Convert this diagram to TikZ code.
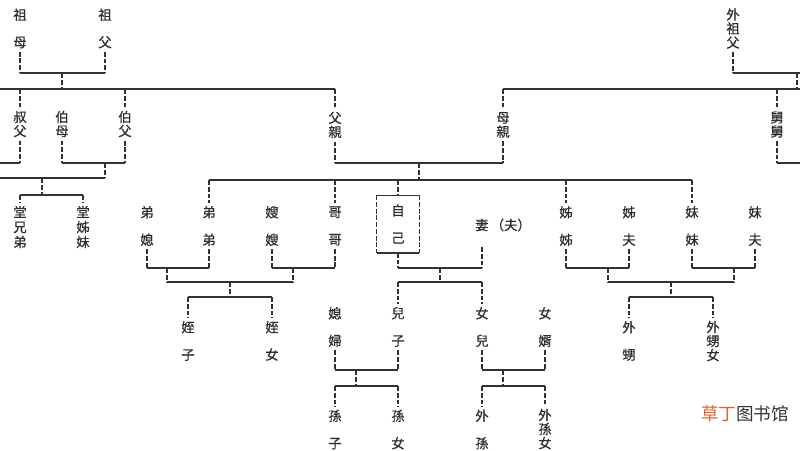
\documentclass[tikz,border=0pt]{standalone}
\usepackage{fontspec}
\newfontfamily\cjk[FakeBold=0.5]{Noto Sans CJK TC}
\newfontfamily\cjksc{Noto Sans CJK SC}
\usepackage{xcolor}
\usepackage{tikz}
\definecolor{LineGray}{RGB}{50,50,50}
\definecolor{TextGray}{RGB}{45,45,45}
\definecolor{MarkOrange}{RGB}{232,96,42}
\definecolor{MarkGray}{RGB}{52,52,52}

\begin{document}
\begin{tikzpicture}[
  x=0.025cm, y=-0.025cm,
  kin/.style={font=\cjk\fontsize{9.5}{10}\selectfont, text=TextGray, align=center, inner sep=2.2pt},
  selfbox/.style={kin, minimum width=1.05cm, minimum height=1.425cm},
  credit/.style={font=\cjksc\fontsize{12.5}{13}\selectfont, text=MarkGray, inner sep=0pt},
  hbar/.style={draw=LineGray, line width=1pt},
  vbar/.style={draw=LineGray, line width=1.1pt, dash pattern=on 3.5pt off 1.3pt}
]
\useasboundingbox (0,0) rectangle (800,450);
\fill[white] (0,0) rectangle (800,450);
\clip (0,0) rectangle (800,450);

% Grandparents
\node[kin] (grandma) at (20,28.5) {祖\\[9.5pt]母};
\node[kin] (grandpa) at (105,28.5) {祖\\[9.5pt]父};
\node[kin] (wgrandpa) at (733,28.5) {外\\祖\\父};

% Parents' generation
\node[kin] (shufu) at (20,124) {叔\\父};
\node[kin] (bomu) at (62,124) {伯\\母};
\node[kin] (bofu) at (125,124) {伯\\父};
\node[kin] (father) at (335,125) {父\\親};
\node[kin] (mother) at (503,125) {母\\親};
\node[kin] (jiujiu) at (777,124.5) {舅\\舅};

% Cousins
\node[kin] (tangxiong) at (20,227) {堂\\[0.6pt]兄\\[0.6pt]弟};
\node[kin] (tangjie) at (83,227) {堂\\[0.6pt]姊\\[0.6pt]妹};

% Own generation
\node[kin] (dixi) at (147,226) {弟\\[9.5pt]媳};
\node[kin] (didi) at (209,226) {弟\\[9.5pt]弟};
\node[kin] (saosao) at (272,226) {嫂\\[9.5pt]嫂};
\node[kin] (gege) at (335,226) {哥\\[9.5pt]哥};
\node[selfbox] (self) at (398,224) {自\\[9.5pt]己};
\node[kin] (wife) at (503,225) {妻\,（夫）};
\node[kin] (jiejie) at (566,226) {姊\\[9.5pt]姊};
\node[kin] (jiefu) at (629,226) {姊\\[9.5pt]夫};
\node[kin] (meimei) at (692,226) {妹\\[9.5pt]妹};
\node[kin] (meifu) at (755,226) {妹\\[9.5pt]夫};

% Children
\node[kin] (zhizi) at (188,341) {姪\\[9.5pt]子};
\node[kin] (zhinv) at (272,341) {姪\\[9.5pt]女};
\node[kin] (xifu) at (335,327) {媳\\[9.5pt]婦};
\node[kin] (erzi) at (398,327) {兒\\[9.5pt]子};
\node[kin] (nver) at (482,327) {女\\[9.5pt]兒};
\node[kin] (nvxu) at (545,327) {女\\[9.5pt]婿};
\node[kin] (waisheng) at (629,341) {外\\[9.5pt]甥};
\node[kin] (waishengnv) at (713,341) {外\\甥\\女};

% Grandchildren
\node[kin] (sunzi) at (335,429.5) {孫\\[9.5pt]子};
\node[kin] (sunnv) at (398,429.5) {孫\\[9.5pt]女};
\node[kin] (waisun) at (482,429.5) {外\\[9.5pt]孫};
\node[kin] (waisunnv) at (545,429) {外\\孫\\女};

% Watermark
\node[credit] (credit) at (745,414) {\textcolor{MarkOrange}{草丁}图书馆};

% Edges of the page, for lines that run off it
\coordinate (leftedge) at (-5,0);
\coordinate (rightedge) at (805,0);

% Grandparents -> father's generation
\coordinate (gpbar) at (62,73);
\coordinate (elder) at (62,89);
\draw[vbar] (grandma) -- (grandma |- gpbar);
\draw[vbar] (grandpa) -- (grandpa |- gpbar);
\draw[hbar] (grandma |- gpbar) -- (grandpa |- gpbar);
\draw[vbar] (gpbar) -- (elder);
\draw[hbar] (leftedge |- elder) -- (father |- elder);
\draw[vbar] (shufu |- elder) -- (shufu);
\draw[vbar] (bofu |- elder) -- (bofu);
\draw[vbar] (father |- elder) -- (father);

% Uncles' families -> cousins
\coordinate (shubar) at (20,163);
\coordinate (bostem) at (105,163);
\coordinate (cousinrow) at (105,178);
\coordinate (cousinstem) at (42,178);
\coordinate (cousinbar) at (42,195);
\draw[vbar] (shufu) -- (shufu |- shubar);
\draw[hbar] (leftedge |- shubar) -- (shufu |- shubar);
\draw[vbar] (bomu) -- (bomu |- shubar);
\draw[vbar] (bofu) -- (bofu |- shubar);
\draw[hbar] (bomu |- shubar) -- (bofu |- shubar);
\draw[vbar] (bostem) -- (cousinrow);
\draw[hbar] (leftedge |- cousinrow) -- (cousinrow);
\draw[vbar] (cousinstem) -- (cousinbar);
\draw[hbar] (tangxiong |- cousinbar) -- (tangjie |- cousinbar);
\draw[vbar] (tangxiong |- cousinbar) -- (tangxiong);
\draw[vbar] (tangjie |- cousinbar) -- (tangjie);

% Maternal side
\coordinate (wgpbar) at (733,73);
\coordinate (wgpstem) at (797,73);
\coordinate (maternal) at (797,89);
\coordinate (jiubar) at (777,163);
\draw[vbar] (wgrandpa) -- (wgrandpa |- wgpbar);
\draw[hbar] (wgrandpa |- wgpbar) -- (rightedge |- wgpbar);
\draw[vbar] (wgpstem) -- (maternal);
\draw[hbar] (mother |- maternal) -- (rightedge |- maternal);
\draw[vbar] (mother |- maternal) -- (mother);
\draw[vbar] (jiujiu |- maternal) -- (jiujiu);
\draw[vbar] (jiujiu) -- (jiubar);
\draw[hbar] (jiubar) -- (rightedge |- jiubar);

% Parents -> siblings
\coordinate (parentbar) at (419,163);
\coordinate (sibrow) at (419,180);
\draw[vbar] (father) -- (father |- parentbar);
\draw[vbar] (mother) -- (mother |- parentbar);
\draw[hbar] (father |- parentbar) -- (mother |- parentbar);
\draw[vbar] (parentbar) -- (sibrow);
\draw[hbar] (didi |- sibrow) -- (meimei |- sibrow);
\draw[vbar] (didi |- sibrow) -- (didi);
\draw[vbar] (gege |- sibrow) -- (gege);
\draw[vbar] (self |- sibrow) -- (self);
\draw[vbar] (jiejie |- sibrow) -- (jiejie);
\draw[vbar] (meimei |- sibrow) -- (meimei);

% Box round oneself
\draw[hbar] (self.north west) -- (self.north east);
\draw[hbar] (self.south west) -- (self.south east);
\draw[vbar] (self.north west) -- (self.south west);
\draw[vbar] (self.north east) -- (self.south east);

% Brothers' families -> nephew, niece
\coordinate (dibar) at (167,268);
\coordinate (gebar) at (293,268);
\coordinate (brojoin) at (230,282);
\coordinate (zhibar) at (230,297);
\draw[vbar] (dixi) -- (dixi |- dibar);
\draw[vbar] (didi) -- (didi |- dibar);
\draw[hbar] (dixi |- dibar) -- (didi |- dibar);
\draw[vbar] (saosao) -- (saosao |- gebar);
\draw[vbar] (gege) -- (gege |- gebar);
\draw[hbar] (saosao |- gebar) -- (gege |- gebar);
\draw[vbar] (dibar) -- (dibar |- brojoin);
\draw[vbar] (gebar) -- (gebar |- brojoin);
\draw[hbar] (dibar |- brojoin) -- (gebar |- brojoin);
\draw[vbar] (brojoin) -- (zhibar);
\draw[hbar] (zhizi |- zhibar) -- (zhinv |- zhibar);
\draw[vbar] (zhizi |- zhibar) -- (zhizi);
\draw[vbar] (zhinv |- zhibar) -- (zhinv);

% Oneself and spouse -> son, daughter
\coordinate (selfbar) at (440,268);
\coordinate (wifeleg) at (482,247);
\coordinate (childrow) at (440,282);
\draw[vbar] (self) -- (self |- selfbar);
\draw[vbar] (wifeleg) -- (wifeleg |- selfbar);
\draw[hbar] (self |- selfbar) -- (wifeleg |- selfbar);
\draw[vbar] (selfbar) -- (childrow);
\draw[hbar] (erzi |- childrow) -- (nver |- childrow);
\draw[vbar] (erzi |- childrow) -- (erzi);
\draw[vbar] (nver |- childrow) -- (nver);

% Son's family
\coordinate (sonbar) at (356,370);
\coordinate (sunbar) at (356,386);
\draw[vbar] (xifu) -- (xifu |- sonbar);
\draw[vbar] (erzi) -- (erzi |- sonbar);
\draw[hbar] (xifu |- sonbar) -- (erzi |- sonbar);
\draw[vbar] (sonbar) -- (sunbar);
\draw[hbar] (sunzi |- sunbar) -- (sunnv |- sunbar);
\draw[vbar] (sunzi |- sunbar) -- (sunzi);
\draw[vbar] (sunnv |- sunbar) -- (sunnv);

% Daughter's family
\coordinate (nverbar) at (503,370);
\coordinate (waisunbar) at (503,386);
\draw[vbar] (nver) -- (nver |- nverbar);
\draw[vbar] (nvxu) -- (nvxu |- nverbar);
\draw[hbar] (nver |- nverbar) -- (nvxu |- nverbar);
\draw[vbar] (nverbar) -- (waisunbar);
\draw[hbar] (waisun |- waisunbar) -- (waisunnv |- waisunbar);
\draw[vbar] (waisun |- waisunbar) -- (waisun);
\draw[vbar] (waisunnv |- waisunbar) -- (waisunnv);

% Sisters' families -> sister's children
\coordinate (jiebar) at (608,268);
\coordinate (meibar) at (734,268);
\coordinate (sisjoin) at (671,282);
\coordinate (shengbar) at (671,297);
\draw[vbar] (jiejie) -- (jiejie |- jiebar);
\draw[vbar] (jiefu) -- (jiefu |- jiebar);
\draw[hbar] (jiejie |- jiebar) -- (jiefu |- jiebar);
\draw[vbar] (meimei) -- (meimei |- meibar);
\draw[vbar] (meifu) -- (meifu |- meibar);
\draw[hbar] (meimei |- meibar) -- (meifu |- meibar);
\draw[vbar] (jiebar) -- (jiebar |- sisjoin);
\draw[vbar] (meibar) -- (meibar |- sisjoin);
\draw[hbar] (jiebar |- sisjoin) -- (meibar |- sisjoin);
\draw[vbar] (sisjoin) -- (shengbar);
\draw[hbar] (waisheng |- shengbar) -- (waishengnv |- shengbar);
\draw[vbar] (waisheng |- shengbar) -- (waisheng);
\draw[vbar] (waishengnv |- shengbar) -- (waishengnv);
\end{tikzpicture}
\end{document}
